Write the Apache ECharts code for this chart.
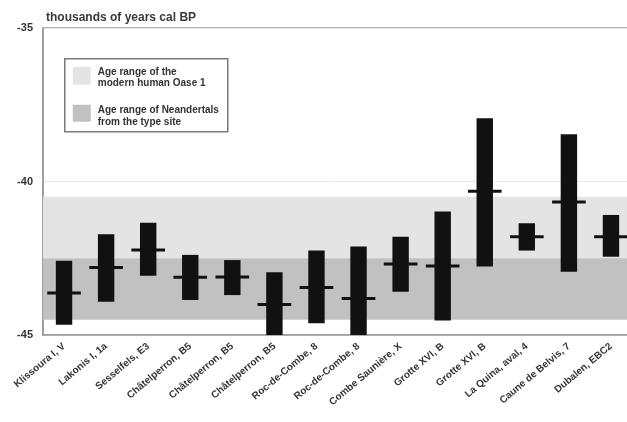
<!DOCTYPE html>
<html>
<head>
<meta charset="utf-8">
<script src="https://cdn.jsdelivr.net/npm/echarts@6/dist/echarts.min.js"></script>
<style>
  html, body { margin: 0; padding: 0; background: #fff; }
  #chart { width: 627px; height: 422px; }
</style>
</head>
<body>
<div id="chart"></div>
<script>
// Sites / layers along the x axis
var categories = [
  'Klissoura I, V', 'Lakonis I, 1a', 'Sesselfels, E3',
  'Châtelperron, B5', 'Châtelperron, B5', 'Châtelperron, B5',
  'Roc-de-Combe, 8', 'Roc-de-Combe, 8', 'Combe Saunière, X',
  'Grotte XVI, B', 'Grotte XVI, B', 'La Quina, aval, 4',
  'Caune de Belvis, 7', 'Dubalen, EBC2'
];
// Age ranges (thousands of years cal BP, negative = before present)
var rangeYoung = [-42.58, -41.72, -41.34, -42.39, -42.56, -42.96, -42.25, -42.12, -41.80, -40.98, -37.94, -41.36, -38.46, -41.09];
var rangeOld   = [-44.67, -43.92, -43.07, -43.86, -43.70, -45.00, -44.62, -45.00, -43.59, -44.53, -42.77, -42.25, -42.94, -42.45];
var rangeMean  = [-43.63, -42.80, -42.23, -43.12, -43.11, -44.01, -43.45, -43.81, -42.69, -42.75, -40.32, -41.80, -40.67, -41.80];

// Reference bands
var oaseBand = [-40.5, -42.5];
var neandertalBand = [-42.5, -44.5];
var yTicks = { min: -45, max: -35, step: 5 };

var lightGray = '#e4e4e4';
var darkGray = '#c1c1c1';
var ink = '#111';
var fontFamily = 'Arial, "Liberation Sans", sans-serif';

var chart = echarts.init(document.getElementById('chart'), null, { renderer: 'canvas' });

var data = categories.map(function (c, i) {
  return [i, rangeYoung[i], rangeOld[i], rangeMean[i]];
});

chart.setOption({
  animation: false,
  title: {
    text: 'thousands of years cal BP',
    left: 41, top: 7,
    textStyle: { fontFamily: fontFamily, fontSize: 12, fontWeight: 'bold', color: '#3a3a3a' }
  },
  grid: {
    left: 43, top: 28, right: -5, bottom: 87,
    outerBoundsMode: 'none',
    containLabel: false,
    show: true, borderColor: '#9a9a9a', borderWidth: 1.5, backgroundColor: 'transparent'
  },
  xAxis: {
    type: 'category',
    data: categories,
    boundaryGap: true,
    axisLine: { show: true, lineStyle: { color: '#9a9a9a', width: 1.5 } },
    axisTick: { show: false },
    axisLabel: {
      rotate: 40, interval: 0, margin: 10,
      fontFamily: fontFamily, fontSize: 10, fontWeight: 'bold', color: '#333'
    },
    splitLine: { show: false }
  },
  yAxis: {
    type: 'value',
    min: yTicks.min, max: yTicks.max, interval: yTicks.step,
    axisLine: { show: true, lineStyle: { color: '#9a9a9a', width: 1.5 } },
    axisTick: { show: false },
    axisLabel: { margin: 10, fontFamily: fontFamily, fontSize: 11, fontWeight: 'bold', color: '#333' },
    splitLine: { show: true, lineStyle: { color: '#e8e8e8', width: 1 } }
  },
  series: [
    {
      type: 'line',
      data: [],
      silent: true,
      markArea: {
        silent: true,
        itemStyle: { color: lightGray },
        data: [[{ yAxis: oaseBand[0] }, { yAxis: oaseBand[1] }]]
      },
      z: 1
    },
    {
      type: 'line',
      data: [],
      silent: true,
      markArea: {
        silent: true,
        itemStyle: { color: darkGray },
        data: [[{ yAxis: neandertalBand[0] }, { yAxis: neandertalBand[1] }]]
      },
      z: 2
    },
    {
      type: 'custom',
      clip: true,
      z: 5,
      data: data,
      encode: { x: 0, y: [1, 2, 3] },
      renderItem: function (params, api) {
        var x = api.value(0);
        var top = api.coord([x, api.value(1)]);
        var bottom = api.coord([x, api.value(2)]);
        var mid = api.coord([x, api.value(3)]);
        var bandW = api.size([1, 0])[0];
        var barW = bandW * 0.39;
        var tickW = bandW * 0.8;
        return {
          type: 'group',
          children: [
            {
              type: 'rect',
              shape: { x: top[0] - barW / 2, y: top[1], width: barW, height: bottom[1] - top[1] },
              style: { fill: ink }
            },
            {
              type: 'rect',
              shape: { x: mid[0] - tickW / 2, y: mid[1] - 1.5, width: tickW, height: 3 },
              style: { fill: ink }
            }
          ]
        };
      }
    }
  ],
  graphic: [
    {
      type: 'group',
      left: 64, top: 58,
      z: 10,
      children: [
        { type: 'rect', shape: { x: 0, y: 0, width: 163, height: 73 },
          style: { fill: '#fff', stroke: '#7a7a7a', lineWidth: 1.5 } },
        { type: 'rect', shape: { x: 8, y: 8, width: 18, height: 18 }, style: { fill: lightGray } },
        { type: 'text', x: 33, y: 8,
          style: { text: 'Age range of the\nmodern human Oase 1', fill: '#333', lineHeight: 11,
                   font: 'bold 10px ' + fontFamily } },
        { type: 'rect', shape: { x: 8, y: 46, width: 18, height: 17 }, style: { fill: darkGray } },
        { type: 'text', x: 33, y: 45,
          style: { text: 'Age range of Neandertals\nfrom the type site', fill: '#333', lineHeight: 12,
                   font: 'bold 10px ' + fontFamily } }
      ]
    }
  ]
});
</script>
</body>
</html>
